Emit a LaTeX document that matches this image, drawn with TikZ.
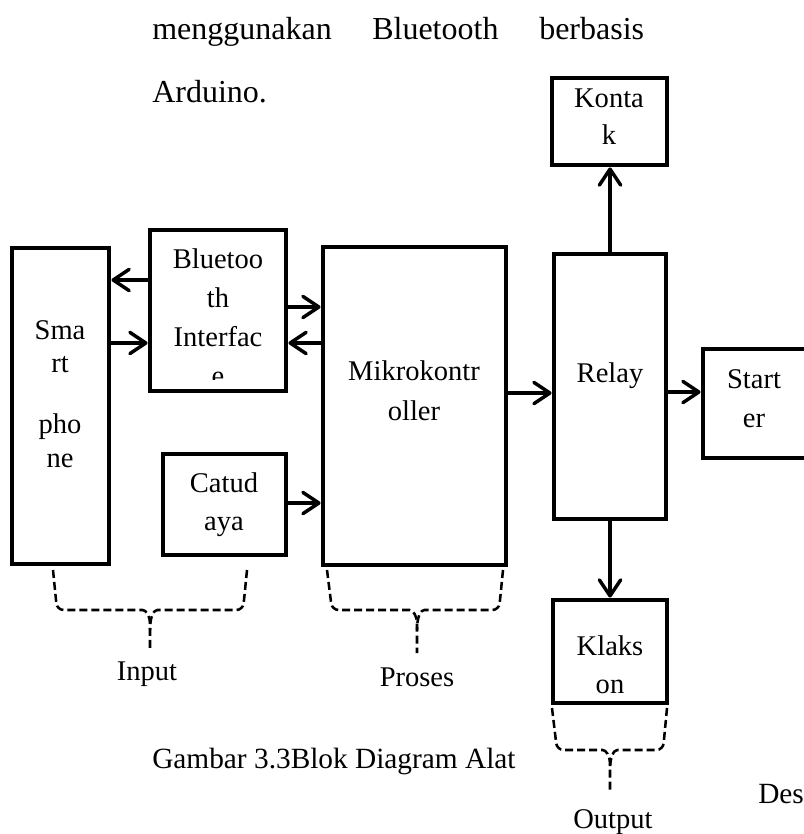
\documentclass[tikz,border=0pt]{standalone}
\usepackage{fontspec}
\setmainfont{Liberation Serif}
\usetikzlibrary{arrows.meta,fit}
\begin{document}
\begin{tikzpicture}[x=0.75pt,y=-0.75pt,
  box/.style={draw, line width=3.6pt, inner sep=0pt, rectangle},
  arr/.style={line width=2.6pt, -{Straight Barb[length=12pt,width=16pt,line width=2.6pt,round]}},
  brace/.style={line width=1.9pt, dash pattern=on 6pt off 3pt, rounded corners=5pt},
  lbl/.style={font=\fontsize{21.4}{25}\selectfont, anchor=base, inner sep=0pt},
  toptext/.style={font=\fontsize{24}{28}\selectfont, anchor=base west, inner sep=0pt},
  captext/.style={font=\fontsize{22}{26}\selectfont, anchor=base west, inner sep=0pt}]
\useasboundingbox (0,0) rectangle (803,834);

% top paragraph text
\node[toptext] (w1) at (152,40) {menggunakan};
\node[toptext] (w2) at (372,40) {Bluetooth};
\node[toptext] (w3) at (539,40) {berbasis};
\node[toptext] (w4) at (152,103) {Arduino.};

% boxes
\node[box, fit={(12,248)(109,564)}] (sp) {};
\node[box, fit={(150,230)(286,391)}] (bt) {};
\node[box, fit={(163,454)(286,555)}] (cd) {};
\node[box, fit={(323,247)(506,565)}] (mk) {};
\node[box, fit={(554,254)(666,519)}] (rl) {};
\node[box, fit={(552,78)(667,165)}] (kt) {};
\node[box, fit={(703,349)(808,458)}] (st) {};
\node[box, fit={(553,600)(667,703)}] (kl) {};

% box texts
\node[lbl] (sp1) at (60,339) {Sma};
\node[lbl] (sp2) at (60,372) {rt};
\node[lbl] (sp3) at (60,433) {pho};
\node[lbl] (sp4) at (60,467) {ne};
\begin{scope}
  \clip (150,230) rectangle (286,379);
  \node[lbl] (bt1) at (218,268) {Bluetoo};
  \node[lbl] (bt2) at (218,307) {th};
  \node[lbl] (bt3) at (218,346) {Interfac};
  \node[lbl] (bt4) at (218,385) {e};
\end{scope}
\node[lbl] (cd1) at (224,492) {Catud};
\node[lbl] (cd2) at (224,530) {aya};
\node[lbl] (mk1) at (414,380) {Mikrokontr};
\node[lbl] (mk2) at (414,420) {oller};
\node[lbl] (rl1) at (610,382) {Relay};
\node[lbl] (kt1) at (609,108) {Konta};
\node[lbl] (kt2) at (609,145) {k};
\node[lbl] (st1) at (754,388) {Start};
\node[lbl] (st2) at (754,427) {er};
\node[lbl] (kl1) at (610,655) {Klaks};
\node[lbl] (kl2) at (610,693) {on};

% connectors
\draw[arr] (bt.west |- 0,280) -- (sp.east |- 0,280);
\draw[arr] (sp.east |- 0,343) -- (bt.west |- 0,343);
\draw[arr] (bt.east |- 0,307) -- (mk.west |- 0,307);
\draw[arr] (mk.west |- 0,343) -- (bt.east |- 0,343);
\draw[arr] (cd.east |- 0,503) -- (mk.west |- 0,503);
\draw[arr] (mk.east |- 0,393) -- (rl.west |- 0,393);
\draw[arr] (rl.east |- 0,392) -- (st.west |- 0,392);
\draw[arr] (rl.north -| 610,0) -- (kt.south -| 610,0);
\draw[arr] (rl.south -| 610,0) -- (kl.north -| 610,0);

% braces
\draw[brace] (53,570) -- (57,610) -- (136,610) .. controls (146,610) and (150,616) .. (150,630) -- (150,650);
\draw[brace] (247,570) -- (243,610) -- (164,610) .. controls (154,610) and (150,616) .. (150,630);
\draw[brace] (327,570) -- (332,610) -- (403,610) .. controls (413,610) and (417,616) .. (417,630) -- (417,653);
\draw[brace] (503,570) -- (499,610) -- (431,610) .. controls (421,610) and (417,616) .. (417,630);
\draw[brace] (552,708) -- (557,750) -- (596,750) .. controls (606,750) and (610,756) .. (610,770) -- (610,792);
\draw[brace] (667,708) -- (663,750) -- (624,750) .. controls (614,750) and (610,756) .. (610,770);

% labels
\node[lbl] (in) at (147,680) {Input};
\node[lbl] (pr) at (417,686) {Proses};
\node[lbl] (out) at (613,828) {Output};
\node[captext] (cap) at (152,768) {Gambar 3.3Blok Diagram Alat};
\node[captext] (des) at (758,803) {Des};
\end{tikzpicture}
\end{document}
